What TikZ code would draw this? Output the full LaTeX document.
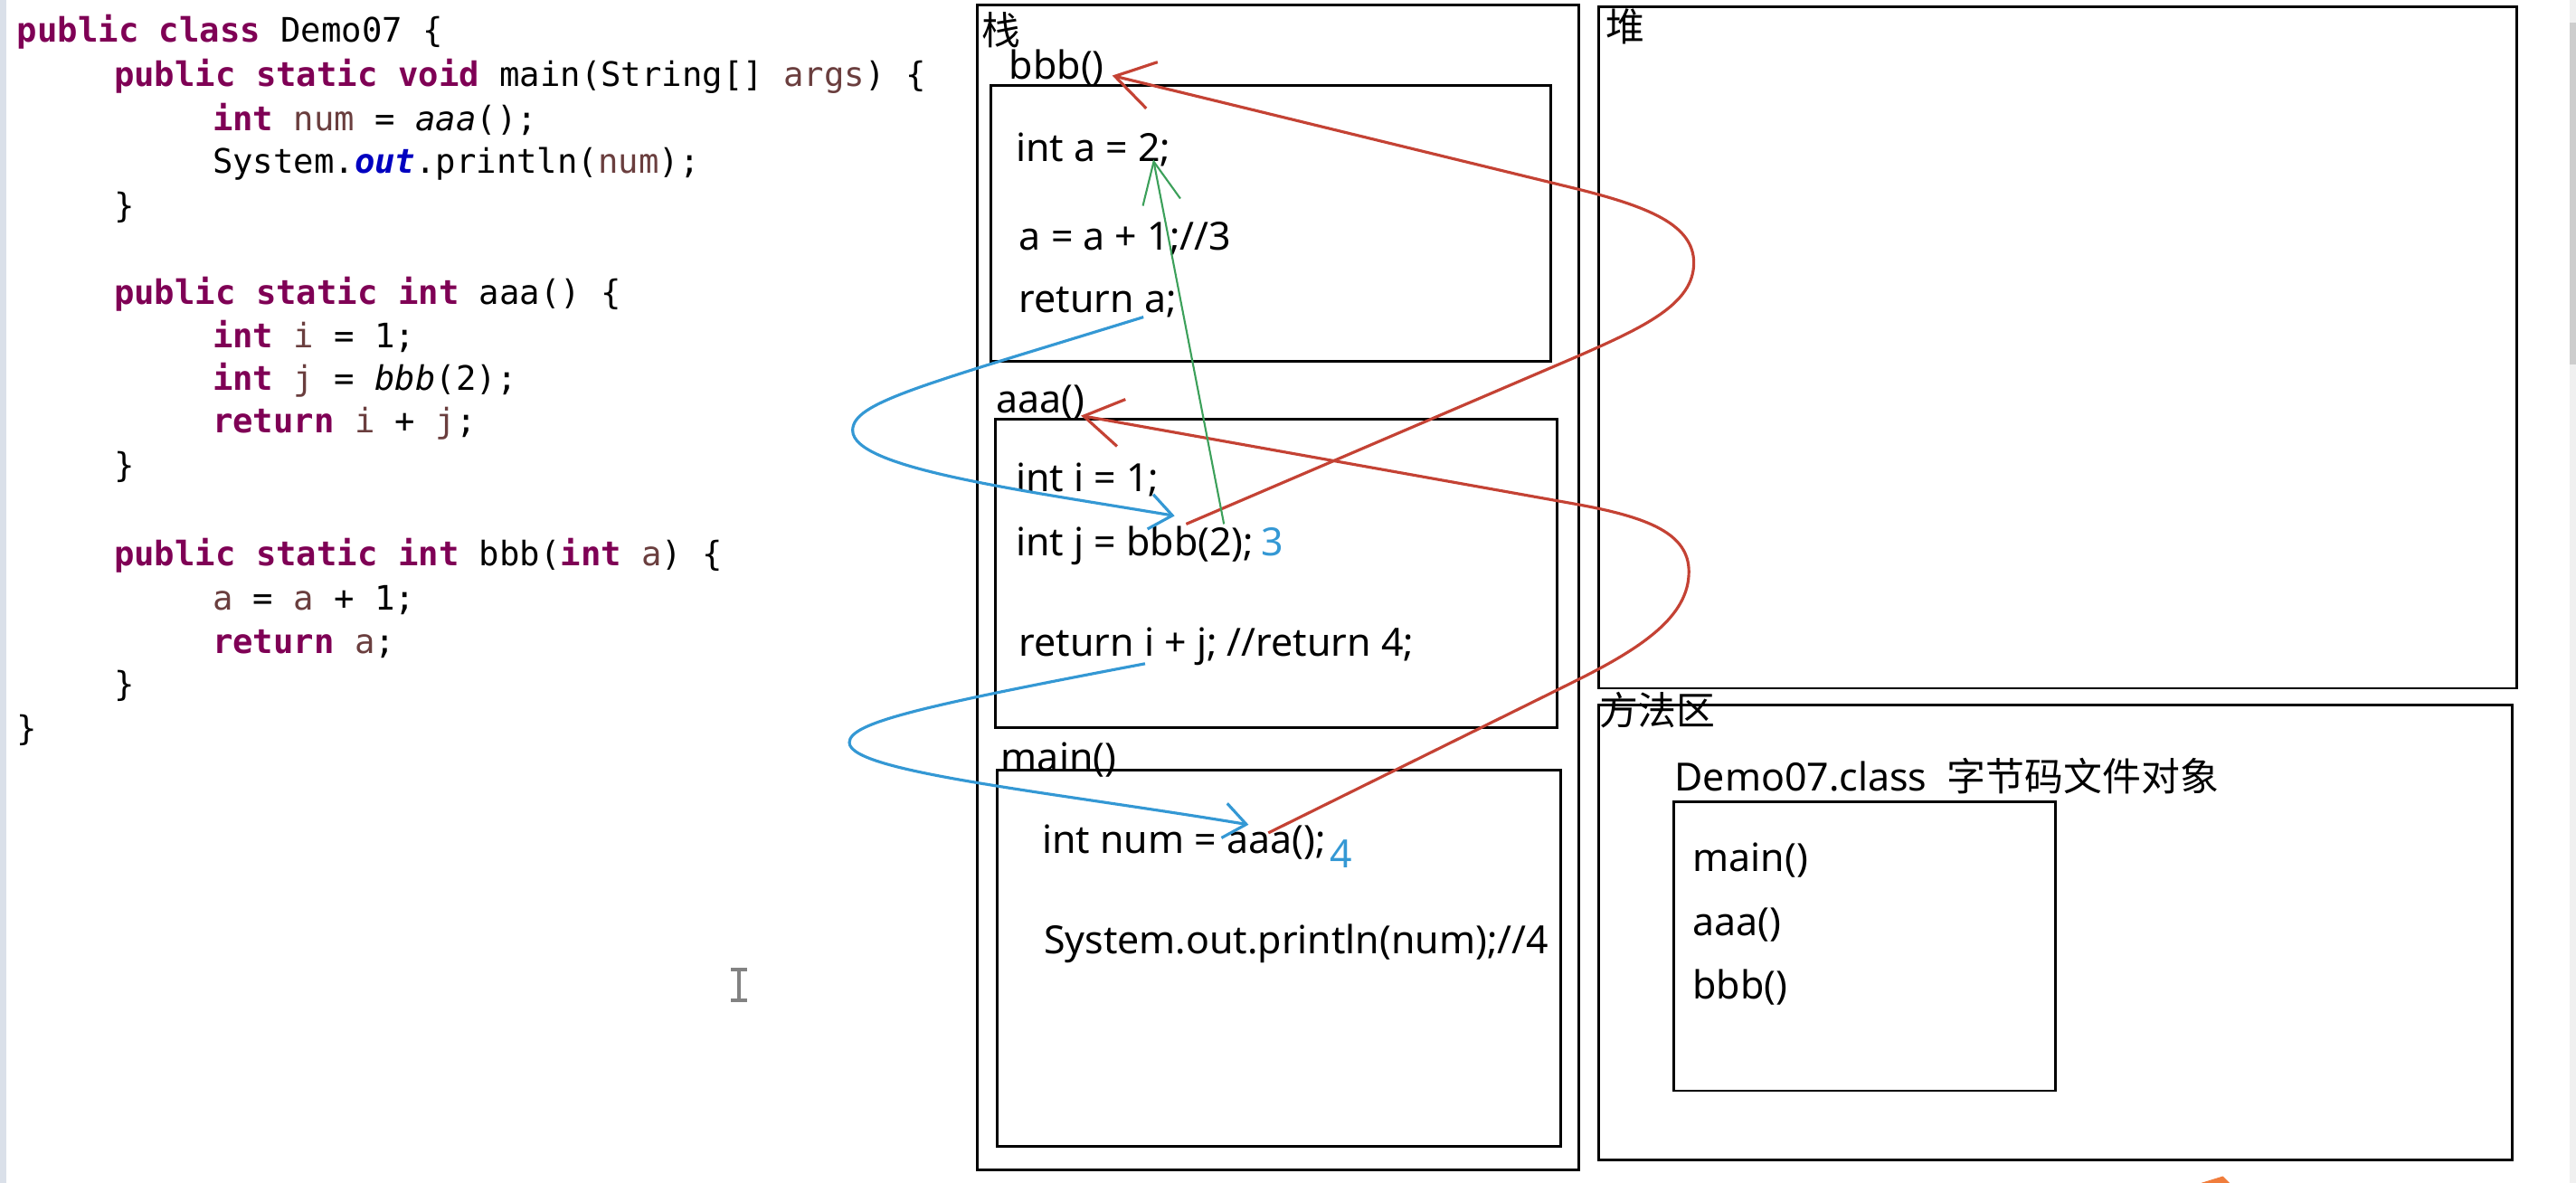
\documentclass[tikz,border=0pt]{standalone}
\usepackage{fontspec}
\setmainfont{Noto Sans}
\setmonofont{DejaVu Sans Mono}[
  ItalicFont={DejaVu Sans Mono Oblique},
  BoldItalicFont={DejaVu Sans Mono Bold Oblique}]
\newfontfamily\cjk{Noto Sans CJK SC}
\usetikzlibrary{arrows.meta}

\definecolor{kwpurple}{RGB}{127,0,85}
\definecolor{varbrown}{RGB}{106,62,62}
\definecolor{fieldblue}{RGB}{0,0,192}
\definecolor{penred}{RGB}{196,66,52}
\definecolor{penblue}{RGB}{52,152,212}
\definecolor{pengreen}{RGB}{60,160,90}
\definecolor{guttergray}{RGB}{218,224,233}
\definecolor{scrolltrack}{RGB}{240,240,240}
\definecolor{scrollthumb}{RGB}{205,205,205}
\definecolor{cursorgray}{RGB}{130,130,130}
\definecolor{cursororange}{RGB}{240,125,60}

\newcommand{\kw}[1]{\textbf{\color{kwpurple}#1}}
\newcommand{\vr}[1]{{\color{varbrown}#1}}

\tikzset{
  code/.style={anchor=mid west, inner sep=0pt, yshift=-1.2pt, font=\fontsize{10.6}{13}\ttfamily},
  memtext/.style={anchor=mid west, inner sep=0pt, yshift=-1.6pt, font=\fontsize{12.2}{14}\selectfont},
  frame/.style={draw=black, line width=0.8pt},
  callred/.style={draw=penred, line width=0.9pt, -{Straight Barb[length=12pt,width=15pt]}},
  retblue/.style={draw=penblue, line width=0.9pt, -{Straight Barb[length=7pt,width=11pt]}},
  valgreen/.style={draw=pengreen, line width=0.6pt, -{Straight Barb[length=13pt,width=12pt]}},
}

\begin{document}
\begin{tikzpicture}[x=0.01816cm, y=-0.01816cm]
\useasboundingbox (0,0) rectangle (1568,720);

% editor edges
\fill[guttergray] (0,0) rectangle (4,720);
\fill[scrolltrack] (1564,0) rectangle (1568,720);
\fill[scrollthumb] (1564,14) rectangle (1568,222);

% source code
\node[code] (l1)  at (10,18)   {\kw{public} \kw{class} Demo07 \{};
\node[code] (l2)  at (69,45)   {\kw{public} \kw{static} \kw{void} main(String[] \vr{args}) \{};
\node[code] (l3)  at (129,72)  {\kw{int} \vr{num} = \textit{aaa}();};
\node[code] (l4)  at (129,98)  {System.\textbf{\textit{\color{fieldblue}out}}.println(\vr{num});};
\node[code] (l5)  at (69,125)  {\}};
\node[code] (l7)  at (69,178)  {\kw{public} \kw{static} \kw{int} aaa() \{};
\node[code] (l8)  at (129,204) {\kw{int} \vr{i} = 1;};
\node[code] (l9)  at (129,230) {\kw{int} \vr{j} = \textit{bbb}(2);};
\node[code] (l10) at (129,256) {\kw{return} \vr{i} + \vr{j};};
\node[code] (l11) at (69,283)  {\}};
\node[code] (l13) at (69,337)  {\kw{public} \kw{static} \kw{int} bbb(\kw{int} \vr{a}) \{};
\node[code] (l14) at (129,364) {\vr{a} = \vr{a} + 1;};
\node[code] (l15) at (129,390) {\kw{return} \vr{a};};
\node[code] (l16) at (69,416)  {\}};
\node[code] (l17) at (10,443)  {\}};

% mouse cursor
\draw[cursorgray, line width=1.2pt] (445,590) -- (455,590) (450,590) -- (450,609) (445,609) -- (455,609);

% stack
\draw[frame] (595,3) rectangle (961,712);
\draw[frame] (603,52) rectangle (944,220);
\draw[frame] (606,255) rectangle (948,443);
\draw[frame] (607,469) rectangle (950,698);
\node[memtext] (stacklbl) at (597,19) {\cjk 栈};

\node[memtext] (bbbname) at (614,40)  {bbb()};
\node[memtext] (bline1)  at (618,90)  {int a = 2;};
\node[memtext] (bline2)  at (620,144) {a = a + 1;//3};
\node[memtext] (bline3)  at (620,182) {return a;};

\node[memtext] (aaaname) at (606,243) {aaa()};
\node[memtext] (aline1)  at (618,291) {int i = 1;};
\node[memtext] (aline2)  at (618,330) {int j = bbb(2);};
\node[memtext, text=penblue] (jval) at ([xshift=2pt,yshift=1.6pt]aline2.mid east) {3};
\node[memtext] (aline3)  at (620,391) {return i + j; //return 4;};

\node[memtext] (mainname) at (609,461) {main()};
\node[memtext] (mline1)   at (634,511) {int num = aaa();};
\node[memtext, text=penblue] (numval) at ([xshift=1pt,yshift=-3pt]mline1.mid east) {4};
\node[memtext] (mline2)   at (635,572) {System.out.println(num);//4};

% heap
\draw[frame] (973,4) rectangle (1532,419);
\node[memtext] (heaplbl) at (977,17) {\cjk 堆};

% method area
\draw[frame] (973,429) rectangle (1529,706);
\node[memtext] (methlbl) at (973,433) {\cjk 方法区};
\node[memtext] (classlbl) at (1019,473) {Demo07.class\ \ {\cjk 字节码文件对象}};
\draw[frame] (1019,488) rectangle (1251,664);
\foreach \m/\y [count=\k] in {main()/522, aaa()/561, bbb()/600}
  \node[memtext] (cm\k) at (1030,\y) {\m};

% pen marks
\coordinate (jcall)   at (722,319);
\coordinate (bbbtip)  at (677,46);
\coordinate (numcall) at (772,507);
\coordinate (aaatip)  at (658,253);
\coordinate (twoarg)  at (745,319);
\coordinate (aparam)  at (702,97);
\coordinate (reta)    at (696,193);
\coordinate (jdest)   at (715,314);
\coordinate (retij)   at (697,404);
\coordinate (numdest) at (760,502);

\draw[callred] (jcall) -- (960,217) .. controls (1001,199) and (1031,185) .. (1031,160)
  .. controls (1031,137) and (1004,126) .. (960,115) -- (bbbtip);
\draw[callred] (numcall) -- (960,414) .. controls (1000,394) and (1028,375) .. (1028,348)
  .. controls (1028,325) and (1004,315) .. (960,307) -- (aaatip);
\draw[valgreen] (twoarg) -- (aparam);
\draw[retblue] (reta) .. controls (560,235) and (519,245) .. (519,262)
  .. controls (519,285) and (620,298) .. (jdest);
\draw[retblue] (retij) .. controls (560,430) and (517,440) .. (517,452)
  .. controls (517,470) and (640,482) .. (numdest);

\fill[cursororange] (1340,720) -- (1353,716) -- (1357,720) -- cycle;
\end{tikzpicture}
\end{document}
